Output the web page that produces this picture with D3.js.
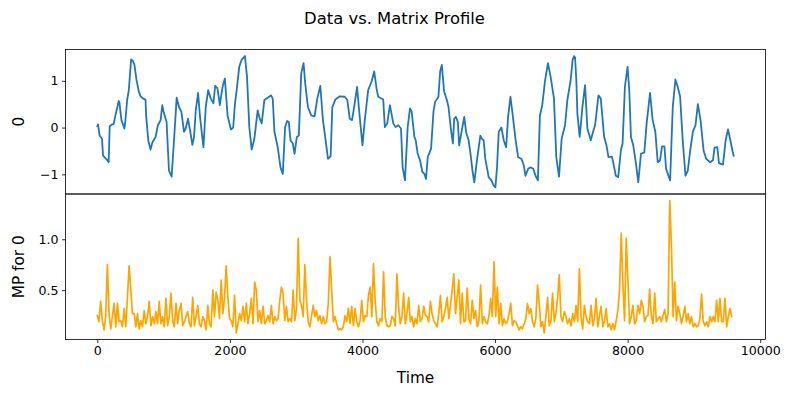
<!DOCTYPE html>
<html><head><meta charset="utf-8">
<script src="https://cdn.jsdelivr.net/npm/d3@7"></script>
<style>
body{margin:0;background:#fff}
text{font-family:"DejaVu Sans",sans-serif;fill:#000}
</style>
</head><body>
<svg id="chart" width="789" height="396"></svg>
<script>
// ---- data: time series (top panel) ----
const seriesTime = [
0,10,35,71,86,147,171,187,220,245,
273,323,335,364,409,424,450,475,510,535,
560,591,626,652,692,727,738,768,803,830,
879,914,955,980,1000,1045,1081,1121,1157,1197,
1232,1268,1308,1333,1368,1399,1434,1459,1485,1520,
1550,1601,1636,1672,1712,1752,1778,1813,1848,1889,
1924,1965,2015,2050,2076,2106,2141,2177,2227,2258,
2293,2329,2369,2419,2444,2480,2520,2570,2621,2646,
2672,2722,2763,2798,2833,2864,2889,2914,2949,2975,
3010,3040,3076,3111,3136,3177,3227,3278,3318,3364,
3404,3444,3480,3520,3545,3591,3657,3732,3772,3808,
3843,3874,3919,3949,4000,4035,4086,4136,4177,4212,
4237,4313,4338,4374,4414,4465,4500,4540,4581,4606,
4641,4682,4717,4742,4783,4803,4833,4869,4904,4934,
4959,4985,5035,5071,5096,5146,5172,5197,5232,5273,
5298,5333,5364,5384,5409,5439,5459,5490,5535,5565,
5601,5626,5662,5687,5727,5778,5803,5828,5853,5904,
5944,5980,6005,6030,6056,6096,6131,6167,6197,6232,
6258,6308,6348,6399,6434,6459,6500,6535,6576,6611,
6646,6677,6712,6752,6798,6838,6889,6924,6965,7005,
7056,7091,7141,7170,7192,7207,7226,7242,7277,7318,
7358,7393,7444,7479,7509,7560,7595,7646,7681,7711,
7762,7782,7822,7858,7898,7924,7959,7999,8025,8050,
8085,8126,8161,8201,8252,8287,8338,8378,8418,8454,
8489,8519,8555,8580,8641,8681,8721,8757,8792,8833,
8873,8908,8944,8984,9024,9060,9100,9146,9186,9247,
9287,9312,9353,9378,9439,9479,9514,9550,9580,9600
];
const seriesValue = [
0.03,0.07,-0.17,-0.24,-0.60,-0.69,-0.74,0.03,0.07,0.07,
0.26,0.57,0.52,0.16,-0.02,0.16,0.59,0.80,1.46,1.43,
1.34,1.02,0.77,0.67,0.62,0.60,0.23,-0.27,-0.47,-0.32,
-0.20,0.05,0.16,0.48,0.34,0.12,-0.92,-1.05,-0.27,0.64,
0.44,0.34,-0.09,-0.02,0.19,-0.06,-0.37,-0.20,0.37,0.74,
0.22,-0.42,0.44,0.80,0.62,0.52,0.89,0.84,0.48,0.87,
1.05,0.26,-0.04,0.00,0.50,0.85,1.30,1.45,1.53,1.09,
0.01,-0.47,-0.24,0.37,0.22,0.09,0.59,0.64,0.69,0.62,
-0.09,-0.42,-0.85,-0.99,0.01,0.14,0.12,-0.27,-0.34,-0.56,
-0.20,-0.17,1.16,1.38,0.95,0.44,0.26,0.24,0.62,0.89,
0.16,-0.27,-0.67,-0.61,0.44,0.60,0.67,0.66,0.59,0.19,
0.16,0.44,0.87,0.37,-0.38,0.16,0.80,0.98,1.20,0.84,
0.66,0.60,0.01,0.09,0.48,0.09,0.01,0.05,-0.02,-0.85,
-1.13,0.01,0.41,0.34,-0.20,-0.27,-0.56,-0.70,-0.95,-0.99,
-1.10,-0.63,-0.45,0.34,0.55,0.66,1.20,1.34,0.77,0.59,
0.44,-0.02,-0.34,0.19,0.23,0.12,-0.38,-0.13,0.23,-0.11,
-0.27,-0.52,-0.95,-1.17,-0.70,-0.17,-0.24,-0.27,-0.67,-1.06,
-1.13,-1.24,-1.28,-0.85,-0.09,0.00,-0.27,-0.42,0.23,0.66,
0.37,-0.24,-0.63,-0.67,-0.81,-1.03,-0.88,-0.85,-0.88,-1.03,
-1.13,0.26,0.48,0.98,1.38,1.09,0.62,-0.63,-1.05,-0.24,
0.05,0.59,1.02,1.45,1.53,1.50,1.02,0.30,-0.20,0.44,
0.91,-0.02,-0.27,-0.09,0.05,0.69,0.62,-0.20,-0.38,-0.63,
-0.62,-0.74,-1.03,-1.06,-0.49,-0.34,0.87,1.30,0.80,-0.20,
-0.38,-0.77,-1.17,-0.56,-0.53,0.09,0.74,0.16,-0.09,-0.74,
-0.70,-0.40,-0.40,-0.88,-1.13,0.44,1.03,0.87,0.66,-0.31,
-1.03,-0.92,-0.49,-0.09,0.05,0.50,0.16,-0.49,-0.67,-0.74,
-0.70,-0.43,-0.42,-0.76,-0.79,-0.27,-0.04,-0.27,-0.49,-0.60
];

// ---- data: matrix profile (bottom panel), one value every mpSampleStep time units ----
const mpSampleStep = 25.25;
const mpValue = [
0.25,0.19,0.39,0.20,0.11,0.24,0.75,0.27,0.12,0.24,
0.37,0.14,0.37,0.19,0.20,0.14,0.32,0.14,0.43,0.74,
0.50,0.27,0.27,0.14,0.27,0.12,0.20,0.14,0.30,0.17,
0.24,0.39,0.15,0.24,0.17,0.29,0.17,0.39,0.17,0.24,
0.14,0.42,0.15,0.24,0.47,0.20,0.14,0.37,0.17,0.30,
0.37,0.15,0.19,0.24,0.29,0.17,0.14,0.43,0.15,0.24,
0.35,0.17,0.14,0.24,0.20,0.11,0.35,0.17,0.14,0.50,
0.24,0.48,0.40,0.22,0.60,0.27,0.43,0.74,0.43,0.22,
0.20,0.14,0.45,0.08,0.17,0.27,0.20,0.34,0.19,0.37,
0.17,0.27,0.42,0.17,0.58,0.50,0.19,0.30,0.17,0.34,
0.17,0.20,0.25,0.19,0.35,0.17,0.24,0.20,0.22,0.40,
0.53,0.47,0.20,0.34,0.19,0.22,0.19,0.50,0.20,0.32,
1.01,0.40,0.35,0.24,0.75,0.40,0.19,0.14,0.25,0.35,
0.24,0.30,0.20,0.25,0.17,0.24,0.17,0.19,0.37,0.83,
0.50,0.19,0.24,0.17,0.11,0.12,0.11,0.14,0.25,0.19,
0.32,0.17,0.34,0.15,0.32,0.19,0.14,0.20,0.40,0.19,
0.25,0.24,0.45,0.53,0.24,0.76,0.40,0.19,0.15,0.22,
0.19,0.68,0.24,0.15,0.14,0.15,0.24,0.22,0.15,0.66,
0.34,0.17,
0.24,0.47,0.17,0.27,0.43,0.19,0.24,0.14,0.22,0.17,
0.35,0.19,0.22,0.34,0.25,0.24,0.19,0.39,0.27,0.20,
0.17,0.14,0.27,0.45,0.19,0.24,0.32,0.43,0.22,0.35,
0.50,0.66,0.27,0.43,0.60,0.17,0.47,0.19,0.20,0.52,
0.22,0.17,0.40,0.22,0.30,0.14,0.20,0.55,0.17,0.24,
0.19,0.17,0.25,0.42,0.24,0.78,0.24,0.53,0.17,0.37,
0.15,0.22,0.17,0.19,0.27,0.37,0.15,0.20,0.19,0.15,
0.11,0.14,0.12,0.17,0.22,0.37,0.27,0.32,0.19,0.14,
0.22,0.55,0.37,0.14,0.19,0.08,0.24,0.43,0.15,0.20,
0.47,0.19,0.27,0.43,0.65,0.24,0.19,0.29,0.24,0.17,
0.22,0.15,
0.27,0.19,0.35,0.19,0.71,0.24,0.12,0.35,0.24,0.19,
0.17,0.35,0.15,0.22,0.42,0.14,0.25,0.34,0.14,0.20,
0.32,0.14,0.17,0.11,0.17,0.11,0.20,0.30,0.50,1.06,
0.57,0.20,1.01,0.60,0.17,0.24,0.35,0.17,0.20,0.35,
0.27,0.40,0.34,0.19,0.24,0.25,0.51,0.25,0.17,0.47,
0.19,0.22,0.24,0.19,0.25,0.31,0.19,0.27,1.38,0.94,
0.24,0.58,0.20,0.34,0.27,0.17,0.25,0.34,0.19,0.27,
0.17,0.24,0.14,0.17,0.14,0.15,0.22,0.46,0.19,0.15,
0.19,0.14,0.24,0.19,0.24,0.19,0.40,0.19,0.42,0.19,
0.19,0.42,0.14,0.24,0.32,0.24
];

// ---- axis ticks ----
const xTicks = [0, 2000, 4000, 6000, 8000, 10000];
const xTickLabels = ["0", "2000", "4000", "6000", "8000", "10000"];
const topTicks = [-1, 0, 1];
const topTickLabels = ["\u22121", "0", "1"];
const mpTicks = [0.5, 1.0];
const mpTickLabels = ["0.5", "1.0"];
const titleText = "Data vs. Matrix Profile";
const topYLabel = "0";
const mpYLabel = "MP for 0";
const xLabel = "Time";

// ---- layout ----
const svg = d3.select("#chart");
const L = 65.5, R = 765.5;
const T1 = 49.5, B1 = 194, T2 = 194, B2 = 339.5;
const TICK_FS = 12.6, LABEL_FS = 15.3, TITLE_FS = 16.4;

const mpTime = mpValue.map((d, i) => i * mpSampleStep);
function padded(ext) { const p = (ext[1] - ext[0]) * 0.05; return [ext[0] - p, ext[1] + p]; }
const x = d3.scaleLinear().domain(padded(d3.extent(seriesTime.concat(mpTime)))).range([L, R]);
const y1 = d3.scaleLinear().domain(padded(d3.extent(seriesValue))).range([B1, T1]);
const y2 = d3.scaleLinear().domain(padded(d3.extent(mpValue))).range([B2, T2]);

// lines
const topData = seriesTime.map((t, i) => [t, seriesValue[i]]);
const mpData = mpTime.map((t, i) => [t, mpValue[i]]);
svg.append("path").datum(topData)
  .attr("d", d3.line().x(d => x(d[0])).y(d => y1(d[1])))
  .attr("fill", "none").attr("stroke", "#1f77b4").attr("stroke-width", 1.8)
  .attr("stroke-linejoin", "round").attr("stroke-linecap", "square");
svg.append("path").datum(mpData)
  .attr("d", d3.line().x(d => x(d[0])).y(d => y2(d[1])))
  .attr("fill", "none").attr("stroke", "orange").attr("stroke-width", 1.7)
  .attr("stroke-linejoin", "round").attr("stroke-linecap", "square");

// axes
function styleAxis(g) {
  g.select(".domain").remove();
  g.selectAll(".tick line").attr("stroke", "#000").attr("stroke-width", 0.8);
  g.selectAll(".tick text").attr("font-size", TICK_FS).attr("font-family", "DejaVu Sans").attr("fill", "#000");
}
svg.append("g").attr("transform", `translate(${L},0)`)
  .call(d3.axisLeft(y1).tickValues(topTicks).tickFormat((d, i) => topTickLabels[i]).tickSize(3.5).tickPadding(3.5))
  .call(styleAxis);
svg.append("g").attr("transform", `translate(${L},0)`)
  .call(d3.axisLeft(y2).tickValues(mpTicks).tickFormat((d, i) => mpTickLabels[i]).tickSize(3.5).tickPadding(3.5))
  .call(styleAxis);
svg.append("g").attr("transform", `translate(0,${B2})`)
  .call(d3.axisBottom(x).tickValues(xTicks).tickFormat((d, i) => xTickLabels[i]).tickSize(3.5).tickPadding(3.5))
  .call(styleAxis);

// spines
[[T1, B1], [T2, B2]].forEach(([t, b]) => {
  svg.append("rect").attr("x", L).attr("y", t).attr("width", R - L).attr("height", b - t)
    .attr("fill", "none").attr("stroke", "#000").attr("stroke-width", 0.8);
});

// texts
svg.append("text").attr("x", 394.5).attr("y", 24).attr("text-anchor", "middle")
  .attr("font-size", TITLE_FS).text(titleText);
svg.append("text").attr("x", (L + R) / 2).attr("y", 383).attr("text-anchor", "middle")
  .attr("font-size", LABEL_FS).text(xLabel);
svg.append("text").attr("transform", `translate(23.5,${(T1 + B1) / 2}) rotate(-90)`)
  .attr("text-anchor", "middle").attr("font-size", LABEL_FS).text(topYLabel);
svg.append("text").attr("transform", `translate(23.5,${(T2 + B2) / 2}) rotate(-90)`)
  .attr("text-anchor", "middle").attr("font-size", LABEL_FS).text(mpYLabel);
</script>
</body></html>
